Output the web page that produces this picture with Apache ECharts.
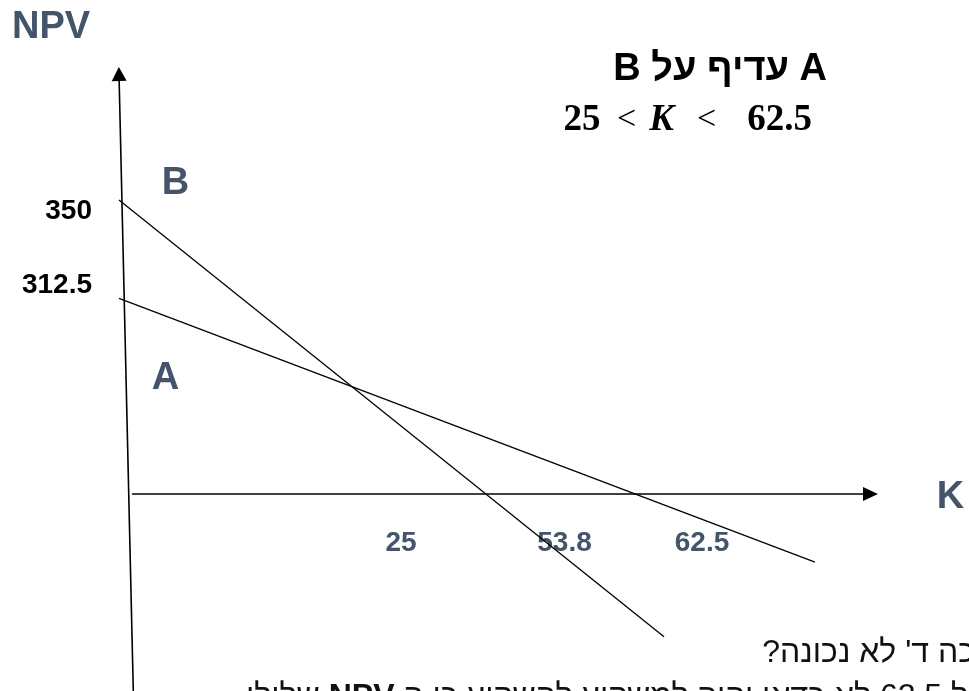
<!DOCTYPE html>
<html><head><meta charset="utf-8">
<script src="https://cdn.jsdelivr.net/npm/echarts@6/dist/echarts.min.js"></script>
<style>html,body{margin:0;padding:0;background:#fff;overflow:hidden}#c{width:969px;height:691px}</style>
</head><body><div id="c"></div>
<script>
// ---- Sketch data (K on x, NPV on y) ----
const lineB = [[-0.9, 350], [53.6, -170]];
const lineA = [[-0.9, 233], [68.7, -81]];
const npvAxisLine = [[0.53, -234.5], [-0.9, 500]];
const kAxisLine = [[0.4, 0], [74.25, 0]];
const yTickLabels = ['350', '312.5'];
const xTickLabels = ['25', '53.8', '62.5'];
const seriesNames = ['B', 'A'];
const axisNames = ['NPV', 'K'];
const titleText = 'A עדיף על B';
const rangeParts = ['25', '<', 'K', '<', '62.5'];
const note1 = "כה ד' לא נכונה?";
const note2Left = 'שלילי';
const note2Bold = 'NPV';
const note2Right = 'ל 62.5 לא כדאי יהיה למשקיע להשקיע כי ה';

const RLE = '\u202B', PDF = '\u202C';
const SLATE = '#44546A';
const SANS = "'Liberation Sans', 'DejaVu Sans', sans-serif";
const SERIF = "'Liberation Serif', 'DejaVu Serif', serif";

function seg(name, pts, width, arrowSize, arrowRot) {
  return {
    type: 'line', name: name, silent: true, clip: false, animation: false,
    symbol: arrowSize ? 'triangle' : 'none',
    symbolSize: arrowSize || 0, symbolRotate: arrowRot || 0,
    data: pts.map((p, i) => (i < pts.length - 1) ? { value: p, symbol: 'none' } : { value: p }),
    lineStyle: { color: '#000', width: width },
    itemStyle: { color: '#000' }
  };
}

const chart = echarts.init(document.getElementById('c'), null, { renderer: 'canvas', width: 969, height: 691 });

function txt(text, x, y, size, color, opts) {
  opts = opts || {};
  return {
    type: 'text', x: x, y: y, silent: true,
    style: Object.assign({
      text: text, fill: color, fontSize: size,
      fontWeight: opts.weight || 'bold', fontFamily: opts.family || SANS,
      fontStyle: opts.style || 'normal',
      align: opts.align || 'center', verticalAlign: 'middle'
    }, opts.extra || {})
  };
}

const graphics = [
  txt(axisNames[0], 51, 28, 38, SLATE),
  txt(axisNames[1], 950.5, 498, 38, SLATE),
  txt(seriesNames[0], 175.5, 184, 38, SLATE),
  txt(seriesNames[1], 165.5, 379, 38, SLATE),
  txt(yTickLabels[0], 92, 211.5, 28, '#000', { align: 'right' }),
  txt(yTickLabels[1], 92, 285, 28, '#000', { align: 'right' }),
  txt(xTickLabels[0], 401, 543, 28, SLATE),
  txt(xTickLabels[1], 564.5, 543, 28, SLATE),
  txt(xTickLabels[2], 702, 543, 28, SLATE),
  txt(RLE + titleText + PDF, 827, 70, 38, '#000', { align: 'right' }),
  txt(rangeParts[0], 582, 120, 37, '#000', { family: SERIF }),
  txt(rangeParts[1], 626.5, 120, 34, '#000', { family: SERIF, weight: 'normal' }),
  txt(rangeParts[2], 661.5, 120, 37, '#000', { family: SERIF, style: 'italic' }),
  txt(rangeParts[3], 706.5, 120, 34, '#000', { family: SERIF, weight: 'normal' }),
  txt(rangeParts[4], 779.5, 120, 37, '#000', { family: SERIF }),
  txt(RLE + note1 + PDF, 975, 653, 32, '#111', { align: 'right', weight: 'normal' }),
  {
    type: 'text', x: 968, y: 697, silent: true,
    style: {
      text: '{r|' + RLE + note2Left + PDF + ' }{b|' + note2Bold + '}{r| ' + RLE + note2Right + PDF + '}',
      align: 'right', verticalAlign: 'middle',
      rich: {
        r: { fontSize: 32, fontFamily: SANS, fontWeight: 'normal', fill: '#111' },
        b: { fontSize: 32, fontFamily: SANS, fontWeight: 'bold', fill: '#111' }
      }
    }
  }
];

chart.setOption({
  animation: false,
  backgroundColor: '#fff',
  grid: { left: 0, right: 0, top: 0, bottom: 0 },
  xAxis: { type: 'value', min: -12.8, max: 84.1, show: false },
  yAxis: { type: 'value', min: -234.5, max: 588.1, show: false },
  series: [
    seg('npvAxis', npvAxisLine, 1.6, [15, 14], 1.3),
    seg('kAxis', kAxisLine, 1.6, [14, 15], -90),
    seg(seriesNames[0], lineB, 1.3),
    seg(seriesNames[1], lineA, 1.3)
  ],
  graphic: graphics
});
</script>
</body></html>
